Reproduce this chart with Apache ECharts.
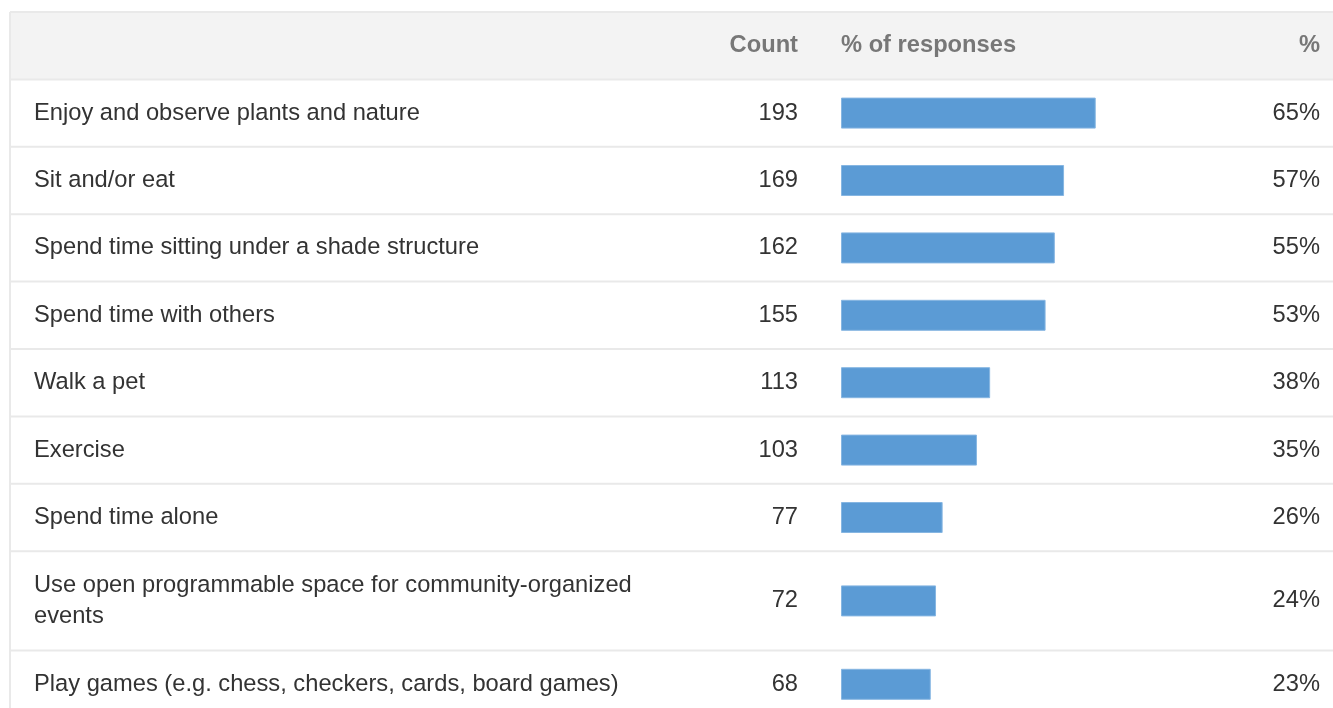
<!DOCTYPE html>
<html>
<head>
<meta charset="utf-8">
<script src="https://cdn.jsdelivr.net/npm/echarts@6/dist/echarts.min.js"></script>
<style>
html,body{margin:0;padding:0;background:#fff;overflow:hidden;}
#chart{width:1333px;height:740px;}
</style>
</head>
<body>
<div id="chart"></div>
<script>
// ---- data ----
var categories = [
  'Enjoy and observe plants and nature',
  'Sit and/or eat',
  'Spend time sitting under a shade structure',
  'Spend time with others',
  'Walk a pet',
  'Exercise',
  'Spend time alone',
  'Use open programmable space for community-organized events',
  'Play games (e.g. chess, checkers, cards, board games)'
];
var counts = [193, 169, 162, 155, 113, 103, 77, 72, 68];
var percents = [65, 57, 55, 53, 38, 35, 26, 24, 23];
var totalResponses = 297;
var headers = ['Count', '% of responses', '%'];

// ---- layout ----
var FONT = '"Liberation Sans", Arial, sans-serif';
var FS = 23.7;
var tableLeft = 10, tableTop = 12, headerH = 67.4, rowH = 67.4, tallRowH = 99.4;
var barLeft = 841, barRight = 1233, countRight = 798, pctRight = 1320, labelLeft = 34;
var W = 1333, H = 740;

var rowTops = [], rowHs = [];
var y = tableTop + headerH;
for (var i = 0; i < categories.length; i++) {
  var h = (i === 7) ? tallRowH : rowH;
  rowTops.push(y); rowHs.push(h); y += h;
}

var grids = [], xAxes = [], yAxes = [], series = [];
categories.forEach(function (cat, i) {
  grids.push({ left: barLeft, width: barRight - barLeft, top: rowTops[i], height: rowHs[i], containLabel: false });
  xAxes.push({ type: 'value', gridIndex: i, min: 0, max: totalResponses, show: false });
  var base = { type: 'category', gridIndex: i, axisLine: { show: false }, axisTick: { show: false }, splitLine: { show: false } };
  yAxes.push(Object.assign({}, base, {
    position: 'left', data: [cat],
    axisLabel: { align: 'left', margin: barLeft - labelLeft, color: '#333', fontSize: FS, fontFamily: FONT,
      width: 660, overflow: 'break', lineHeight: 31 }
  }));
  yAxes.push(Object.assign({}, base, {
    position: 'left', data: [String(counts[i])],
    axisLabel: { align: 'right', margin: barLeft - countRight, color: '#333', fontSize: FS, fontFamily: FONT }
  }));
  yAxes.push(Object.assign({}, base, {
    position: 'right', data: [percents[i] + '%'],
    axisLabel: { align: 'right', margin: pctRight - barRight, color: '#333', fontSize: FS, fontFamily: FONT }
  }));
  series.push({
    type: 'bar', xAxisIndex: i, yAxisIndex: i * 3, data: [counts[i]], barWidth: 31,
    itemStyle: { color: '#5b9bd5', borderColor: '#86b6e2', borderWidth: 1 },
    silent: true, animation: false
  });
});

// table decoration
var graphics = [];
graphics.push({ type: 'rect', z: -10, shape: { x: tableLeft, y: tableTop, width: W - tableLeft, height: headerH }, style: { fill: '#f3f3f3' } });
var lineStyle = { stroke: '#e9e9e9', lineWidth: 2 };
graphics.push({ type: 'line', z: -5, shape: { x1: tableLeft, y1: tableTop, x2: W, y2: tableTop }, style: lineStyle });
graphics.push({ type: 'line', z: -5, shape: { x1: tableLeft, y1: tableTop + headerH, x2: W, y2: tableTop + headerH }, style: lineStyle });
rowTops.forEach(function (t, i) {
  graphics.push({ type: 'line', z: -5, shape: { x1: tableLeft, y1: t + rowHs[i], x2: W, y2: t + rowHs[i] }, style: lineStyle });
});
graphics.push({ type: 'line', z: -5, shape: { x1: tableLeft, y1: tableTop, x2: tableLeft, y2: H }, style: lineStyle });
var hStyle = { fill: '#777', font: 'bold ' + FS + 'px ' + FONT, textVerticalAlign: 'middle' };
graphics.push({ type: 'text', x: countRight, y: tableTop + headerH / 2, style: Object.assign({ text: headers[0], textAlign: 'right' }, hStyle) });
graphics.push({ type: 'text', x: barLeft, y: tableTop + headerH / 2, style: Object.assign({ text: headers[1], textAlign: 'left' }, hStyle) });
graphics.push({ type: 'text', x: pctRight, y: tableTop + headerH / 2, style: Object.assign({ text: headers[2], textAlign: 'right' }, hStyle) });

var chart = echarts.init(document.getElementById('chart'), null, { renderer: 'canvas' });
chart.setOption({
  animation: false,
  backgroundColor: '#fff',
  grid: grids,
  xAxis: xAxes,
  yAxis: yAxes,
  series: series,
  graphic: graphics
});
</script>
</body>
</html>
